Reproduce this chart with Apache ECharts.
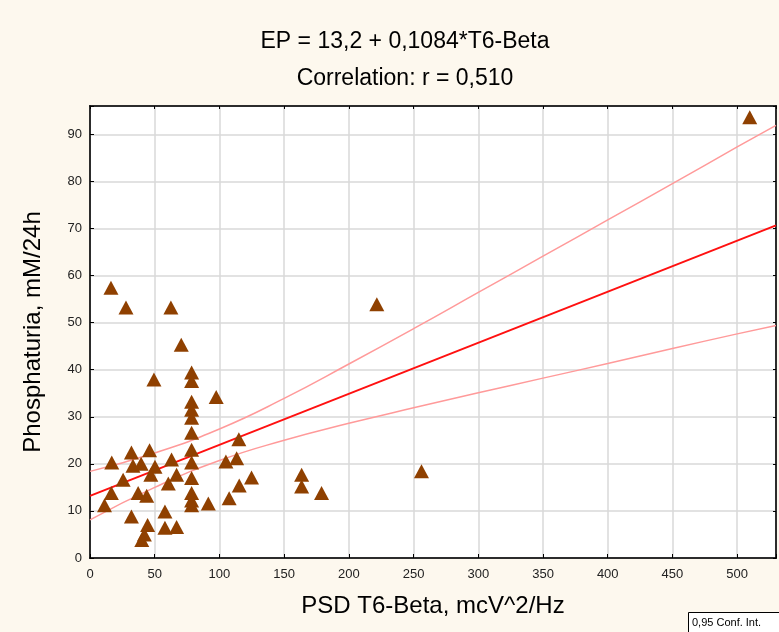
<!DOCTYPE html>
<html>
<head>
<meta charset="utf-8">
<script src="https://cdn.jsdelivr.net/npm/echarts@6/dist/echarts.min.js"></script>
<style>
html,body{margin:0;padding:0;background:#fdf8ee;}
#c{width:779px;height:632px;}
</style>
</head>
<body>
<div id="c"></div>
<script>
// Data
var titleLine1 = "EP = 13,2 + 0,1084*T6-Beta";
var titleLine2 = "Correlation: r = 0,510";
var xName = "PSD T6-Beta, mcV^2/Hz";
var yName = "Phosphaturia, mM/24h";
var legendText = "0,95 Conf. Int.";

var psdT6Beta = [16.2, 27.8, 62.5, 70.5, 49.4, 78.5, 78.5, 97.5, 78.5, 78.5, 78.5, 78.5, 78.5, 78.5, 78.5, 78.5, 78.5, 78.5,
  91.4, 63, 66.9, 60.5, 50.2, 47, 57.9, 57.9, 66.9, 16.8, 32, 46, 33.2, 39.5, 25.6, 16.5, 11.2, 37.2, 43.8, 32, 44.5, 42, 40,
  105, 113.3, 115, 124.8, 115.3, 107.5, 163.5, 163.5, 178.9, 256.1, 221.6, 509.7];
var phosphaturia = [57.4, 53.2, 53.2, 45.3, 37.9, 39.4, 37.6, 34.2, 33.2, 31.5, 29.8, 26.6, 23.0, 20.3, 17.0, 13.8, 12.2, 11.2,
  11.6, 20.9, 17.7, 15.8, 19.4, 17.7, 9.9, 6.4, 6.6, 20.3, 22.4, 22.9, 19.6, 20.0, 16.6, 13.8, 11.2, 13.8, 13.2, 8.8, 7.0, 5.0, 3.8,
  20.5, 21.2, 25.2, 17.1, 15.4, 12.7, 17.7, 15.2, 13.8, 18.4, 53.9, 93.6];

var regX = [0, 530];
var regY = [13.2, 70.65];

var bandX = [0, 50, 100, 150, 200, 250, 300, 350, 400, 450, 500, 530];
var bandUpper = [18.4, 22.3, 27.4, 33.9, 41.2, 48.7, 56.4, 64.1, 71.8, 79.5, 87.3, 91.9];
var bandLower = [8.1, 15.0, 20.7, 25.0, 28.6, 31.9, 35.1, 38.2, 41.3, 44.5, 47.6, 49.4];

var xTicks = [0, 50, 100, 150, 200, 250, 300, 350, 400, 450, 500];
var yTicks = [0, 10, 20, 30, 40, 50, 60, 70, 80, 90];

function zip(a, b) { return a.map(function (v, i) { return [v, b[i]]; }); }

var labelFont = "'Liberation Sans Narrow', 'Liberation Sans', Arial, sans-serif";
var mainFont = "'Liberation Sans', Arial, sans-serif";

var chart = echarts.init(document.getElementById('c'), null, {renderer: 'canvas'});
chart.setOption({
  backgroundColor: '#fdf8ee',
  animation: false,
  title: [
    {text: titleLine1, left: 400, top: 25, textAlign: 'center',
     textStyle: {fontFamily: mainFont, fontSize: 23, fontWeight: 'normal', color: '#000'}},
    {text: titleLine2, left: 400, top: 62, textAlign: 'center',
     textStyle: {fontFamily: mainFont, fontSize: 23, fontWeight: 'normal', color: '#000'}}
  ],
  grid: {left: 90, right: 3, top: 106, bottom: 74, show: true, backgroundColor: '#ffffff',
         borderColor: '#000', borderWidth: 1.5},
  xAxis: [{
    type: 'value', min: 0, max: 530, interval: 50,
    name: xName, nameLocation: 'middle', nameGap: 36,
    nameTextStyle: {fontFamily: mainFont, fontSize: 24, color: '#000'},
    axisLine: {show: true, onZero: false, lineStyle: {color: '#000', width: 1.5}},
    axisTick: {show: true, inside: true, length: 4, lineStyle: {color: '#000'}},
    axisLabel: {margin: 10, fontFamily: labelFont, fontSize: 13, color: '#222',
      formatter: function (v) { return xTicks.indexOf(v) >= 0 ? String(v) : ''; }},
    splitLine: {show: true, lineStyle: {color: '#d9d9d9', width: 1.5}}
  }, {
    type: 'value', position: 'top', min: 0, max: 530, interval: 50,
    axisLine: {show: true, onZero: false, lineStyle: {color: '#000', width: 1.5}},
    axisTick: {show: true, inside: true, length: 3, lineStyle: {color: '#000'}},
    axisLabel: {show: false}, splitLine: {show: false}
  }],
  yAxis: [{
    type: 'value', min: 0, max: 96, interval: 10,
    name: yName, nameLocation: 'middle', nameGap: 45, nameRotate: 90,
    nameTextStyle: {fontFamily: mainFont, fontSize: 24, color: '#000'},
    axisLine: {show: true, onZero: false, lineStyle: {color: '#000', width: 1.5}},
    axisTick: {show: true, inside: true, length: 4, lineStyle: {color: '#000'}},
    axisLabel: {margin: 8, fontFamily: labelFont, fontSize: 13, color: '#222',
      formatter: function (v) { return yTicks.indexOf(v) >= 0 ? String(v) : ''; }},
    splitLine: {show: true, lineStyle: {color: '#d9d9d9', width: 1.5}}
  }, {
    type: 'value', position: 'right', min: 0, max: 96, interval: 10,
    axisLine: {show: true, onZero: false, lineStyle: {color: '#000', width: 1.5}},
    axisTick: {show: true, inside: true, length: 3, lineStyle: {color: '#000'}},
    axisLabel: {show: false}, splitLine: {show: false}
  }],
  series: [
    {type: 'line', data: zip(bandX, bandUpper), smooth: true, symbol: 'none', silent: true,
     lineStyle: {color: '#ff9a9a', width: 1.5}, z: 3},
    {type: 'line', data: zip(bandX, bandLower), smooth: true, symbol: 'none', silent: true,
     lineStyle: {color: '#ff9a9a', width: 1.5}, z: 3},
    {type: 'line', data: zip(regX, regY), symbol: 'none', silent: true,
     lineStyle: {color: '#ff1010', width: 2}, z: 4},
    {type: 'scatter', data: zip(psdT6Beta, phosphaturia), symbol: 'triangle', symbolSize: [15, 14],
     itemStyle: {color: '#8f4000', opacity: 1}, z: 5}
  ],
  graphic: [
    {type: 'rect', shape: {x: 688.5, y: 612.5, width: 100, height: 22},
     style: {fill: '#ffffff', stroke: '#000', lineWidth: 1}},
    {type: 'text', x: 692, y: 617,
     style: {text: legendText, font: "11px " + labelFont, fill: '#000'}}
  ]
});
</script>
</body>
</html>
